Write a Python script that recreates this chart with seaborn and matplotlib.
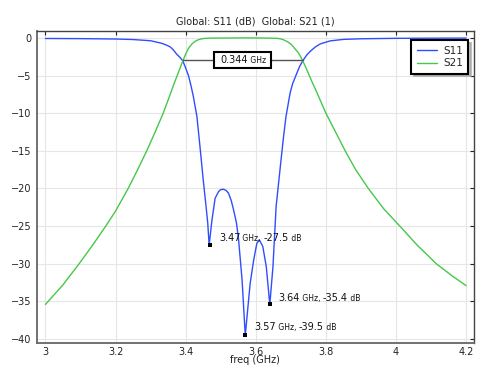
import matplotlib
matplotlib.use("Agg")
import matplotlib.pyplot as plt
import seaborn as sns
import pandas as pd
from matplotlib.patches import Rectangle
from matplotlib.lines import Line2D

# ---- data ----
s11_freq = [3.00, 3.10, 3.20, 3.25, 3.30, 3.33, 3.345, 3.356, 3.365, 3.375, 3.383, 3.392,
            3.400, 3.408, 3.415, 3.422, 3.432, 3.441, 3.450, 3.458, 3.463, 3.467, 3.475,
            3.484, 3.494, 3.500, 3.508, 3.515, 3.522, 3.530, 3.537, 3.545, 3.551, 3.561,
            3.570, 3.584, 3.594, 3.603, 3.610, 3.620, 3.630, 3.640, 3.649, 3.658, 3.670,
            3.679, 3.686, 3.698, 3.705, 3.717, 3.725, 3.734, 3.745, 3.755, 3.770, 3.784,
            3.812, 3.850, 3.900, 4.000, 4.100, 4.200]
s11_db = [-0.08, -0.10, -0.15, -0.22, -0.38, -0.70, -0.95, -1.20, -1.60, -2.20, -2.55, -3.05,
          -4.00, -5.00, -6.30, -7.80, -10.4, -14.5, -18.8, -22.3, -24.6, -27.5, -24.2,
          -21.3, -20.4, -20.15, -20.1, -20.25, -20.6, -21.6, -22.9, -24.6, -26.8, -32.2,
          -39.5, -32.6, -29.5, -27.3, -26.8, -27.7, -30.4, -35.4, -30.4, -22.4, -17.1,
          -13.2, -10.5, -7.3, -6.1, -4.7, -3.8, -3.05, -2.3, -1.8, -1.2, -0.8,
          -0.4, -0.2, -0.12, -0.06, -0.04, -0.03]

s21_freq = [3.00, 3.05, 3.096, 3.135, 3.172, 3.20, 3.236, 3.263, 3.289, 3.313, 3.336,
            3.352, 3.366, 3.380, 3.392, 3.400, 3.408, 3.418, 3.427, 3.436, 3.446, 3.455,
            3.470, 3.520, 3.570, 3.620, 3.660, 3.670, 3.679, 3.692, 3.703, 3.710, 3.722,
            3.728, 3.734, 3.742, 3.750, 3.760, 3.769, 3.785, 3.800, 3.821, 3.855, 3.885,
            3.921, 3.965, 4.011, 4.060, 4.115, 4.160, 4.200]
s21_db = [-35.4, -32.8, -30.0, -27.5, -25.0, -23.0, -20.0, -17.5, -15.0, -12.5, -10.0,
          -8.0, -6.2, -4.5, -3.05, -2.15, -1.4, -0.8, -0.45, -0.25, -0.12, -0.07,
          -0.03, -0.02, 0.0, -0.02, -0.06, -0.12, -0.25, -0.55, -0.95, -1.35, -2.0,
          -2.5, -3.05, -3.85, -4.7, -5.8, -6.7, -8.4, -10.0, -11.9, -15.0, -17.5,
          -20.0, -22.7, -25.0, -27.5, -30.0, -31.6, -32.9]

min_freq = [3.47, 3.57, 3.64]
min_db = [-27.5, -39.5, -35.4]
bw_start, bw_end, bw_level = 3.392, 3.734, -3.0
bw_label = "0.344"

xticks = [3, 3.2, 3.4, 3.6, 3.8, 4, 4.2]
xtick_labels = ["3", "3.2", "3.4", "3.6", "3.8", "4", "4.2"]
yticks = [0, -5, -10, -15, -20, -25, -30, -35, -40]

df = pd.concat([
    pd.DataFrame({"freq": s11_freq, "val": s11_db, "series": "S11"}),
    pd.DataFrame({"freq": s21_freq, "val": s21_db, "series": "S21"}),
])

sns.set_theme(style="white")
plt.rcParams["font.family"] = ["DejaVu Sans"]

fig = plt.figure(figsize=(4.79, 3.66), dpi=100)
ax = fig.add_axes([37 / 479, 1 - 342.5 / 366, (473.5 - 37) / 479, (342.5 - 30.5) / 366])

blue = "#2f4dff"
green = "#45c84a"
sns.lineplot(data=df, x="freq", y="val", hue="series", palette={"S11": blue, "S21": green},
             ax=ax, linewidth=1.0, sort=False, estimator=None, legend=False)

ax.set_xlim(2.976, 4.221)
ax.set_ylim(-40.45, 0.98)
ax.set_xticks(xticks)
ax.set_xticklabels(xtick_labels)
ax.set_yticks(yticks)
ax.tick_params(axis="both", which="both", direction="in", length=3, width=0.8,
               labelsize=7, colors="#222222", top=True, right=True, pad=4,
               labeltop=False, labelright=False)
ax.tick_params(axis="x", pad=3)
ax.grid(True, color="#e6e6e6", linewidth=0.8)
for sp in ax.spines.values():
    sp.set_visible(True)
    sp.set_color("#444444")
    sp.set_linewidth(1.0)
ax.spines["left"].set_color("#666666")
ax.spines["bottom"].set_color("#666666")
ax.spines["left"].set_linewidth(1.3)
ax.spines["bottom"].set_linewidth(1.3)

ax.set_xlabel("freq (GHz)", fontsize=7, labelpad=-1, color="#222222")
ax.set_ylabel("")
ax.set_title("Global: S11 (dB)  Global: S21 (1)", fontsize=7, pad=4, color="#222222")

# bandwidth marker
ax.plot([bw_start, bw_end], [bw_level, bw_level], color="#555555", linewidth=1.0, zorder=3)
t = ax.text(3.5, bw_level, bw_label, fontsize=7, ha="left", va="center", zorder=6,
            color="#111111")
u = ax.annotate(" GHz", xy=(1, 0), xycoords=t, va="bottom", ha="left", fontsize=5.5,
                zorder=6, color="#111111")
fig.canvas.draw()
bb1 = t.get_window_extent()
bb2 = u.get_window_extent()
width_px = bb2.x1 - bb1.x0
center_px = ax.transData.transform((3.564, 0))[0]
new_x0_px = center_px - width_px / 2
inv = ax.transData.inverted()
t.set_x(inv.transform((new_x0_px, 0))[0])
fig.canvas.draw()
bb1 = t.get_window_extent()
bb2 = u.get_window_extent()
x0, _ = inv.transform((bb1.x0 - 6, 0))
x1, _ = inv.transform((bb2.x1 + 5, 0))
_, y0 = inv.transform((0, bb1.y0 - 3))
_, y1 = inv.transform((0, bb1.y1 + 3))
ax.add_patch(Rectangle((x0, y0), x1 - x0, y1 - y0, facecolor="white", edgecolor="black",
                       linewidth=1.5, zorder=5))

# minima markers
ax.scatter(min_freq, min_db, marker="s", s=7, color="black", zorder=7, linewidths=0)
label_offsets = [(0.025, 0.9), (0.026, 1.1), (0.025, 0.9)]
for f, d, (dx, dy) in zip(min_freq, min_db, label_offsets):
    a = ax.text(f + dx, d + dy, f"{f:.2f}", fontsize=7, ha="left", va="center",
                zorder=8, color="#111111")
    b = ax.annotate(" GHz, ", xy=(1, 0), xycoords=a, va="bottom", ha="left",
                    fontsize=5.5, zorder=8, color="#111111")
    c = ax.annotate(f"{d:.1f}", xy=(1, 0), xycoords=b, va="bottom", ha="left",
                    fontsize=7, zorder=8, color="#111111")
    ax.annotate(" dB", xy=(1, 0), xycoords=c, va="bottom", ha="left",
                fontsize=5.5, zorder=8, color="#111111")

# legend
handles = [Line2D([], [], color=blue, lw=1.0), Line2D([], [], color=green, lw=1.0)]
leg = ax.legend(handles, ["S11", "S21"], loc="upper right", fontsize=7.5,
                frameon=True, fancybox=False, shadow={"color": "#999999", "alpha": 0.6},
                handlelength=2.0, borderpad=0.5, labelspacing=0.25, handletextpad=0.55,
                bbox_to_anchor=(0.988, 0.968), borderaxespad=0.0)
leg.get_frame().set_edgecolor("black")
leg.get_frame().set_linewidth(1.5)

fig.savefig("out.png", dpi=100)
